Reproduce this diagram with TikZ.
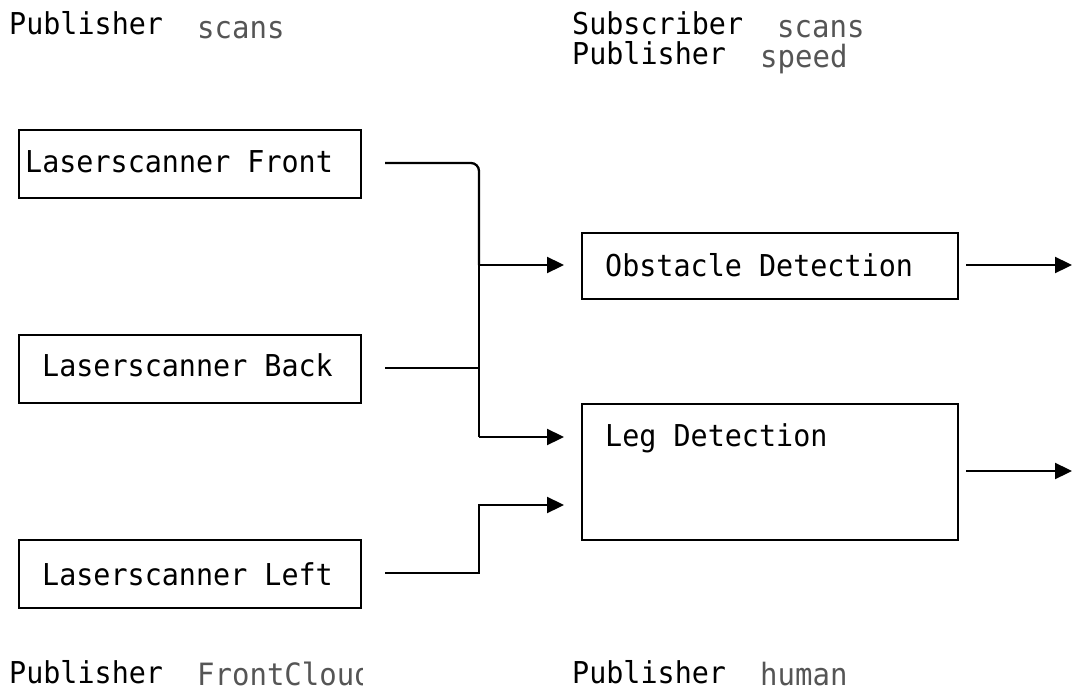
\documentclass[tikz,border=0pt]{standalone}
\usepackage{fontspec}
\usepackage{graphicx}
\setmonofont{DejaVu Sans Mono}
\usetikzlibrary{arrows.meta}
\definecolor{topicgray}{HTML}{555555}
% slightly tall monospace lettering
\newcommand\talltext[1]{\scalebox{1}[1.06]{#1}}
\tikzset{
  box/.style={draw, line width=2.3pt, inner sep=0pt, anchor=north west,
              minimum width=342pt, minimum height=68pt},
  wide/.style={box, minimum width=376pt},
  lbl/.style={inner sep=0pt, anchor=base west,
              font=\ttfamily\fontsize{28.4}{34}\selectfont},
  topic/.style={lbl, text=topicgray, font=\ttfamily\fontsize{29}{34}\selectfont},
  wire/.style={line width=2.3pt},
  flow/.style={wire, -{Triangle[length=17pt,width=16pt]}},
}
\begin{document}
\begin{tikzpicture}[x=1pt, y=-1pt]
\useasboundingbox (0,0) rectangle (1072,693);

% header roles and topics
\node[lbl]   (pubA)  at (9,35)    {\talltext{Publisher}};
\node[topic] (topA)  at (197,39)  {\talltext{scans}};
\node[lbl]   (subB)  at (572,35)  {\talltext{Subscriber}};
\node[topic] (topB)  at (777,38)  {\talltext{scans}};
\node[lbl]   (pubB)  at (572,65)  {\talltext{Publisher}};
\node[topic] (topB2) at (760,68)  {\talltext{speed}};

% scanner boxes
\node[box] (front) at (18,129) {};
\node[box] (back)  at (18,334) {};
\node[box] (left)  at (18,539) {};
\node[lbl] (frontT) at (25,172) {\talltext{Laserscanner Front}};
\node[lbl] (backT)  at (42,376) {\talltext{Laserscanner Back}};
\node[lbl] (leftT)  at (42,585) {\talltext{Laserscanner Left}};

% detection boxes
\node[wide, minimum height=66pt]  (obs) at (581,232) {};
\node[wide, minimum height=136pt] (leg) at (581,403) {};
\node[lbl] (obsT) at (605,276) {\talltext{Obstacle Detection}};
\node[lbl] (legT) at (605,446) {\talltext{Leg Detection}};

% connector end points
\coordinate (fo) at (385,163);
\coordinate (bo) at (385,368);
\coordinate (lo) at (385,573);
\coordinate (busTop)  at (479,163);
\coordinate (busObs)  at (479,265);
\coordinate (busBack) at (479,368);
\coordinate (busLeg)  at (479,437);
\coordinate (lowUp)   at (479,505);
\coordinate (lowCorner) at (479,573);
\coordinate (obsIn)  at (564,265);
\coordinate (legIn1) at (564,437);
\coordinate (legIn2) at (564,505);
\coordinate (obsOut) at (966,265);
\coordinate (obsEnd) at (1072,265);
\coordinate (legOut) at (966,471);
\coordinate (legEnd) at (1072,471);

% scans bus
\draw[wire, rounded corners=8pt] (fo) -- (busTop) -- (busObs);
\draw[wire] (busObs) -- (busLeg);
\draw[wire] (bo) -- (busBack);
\draw[flow] (busObs) -- (obsIn);
\draw[flow] (busLeg) -- (legIn1);
\draw[flow] (lo) -- (lowCorner) -- (lowUp) -- (legIn2);

% outputs
\draw[flow] (obsOut) -- (obsEnd);
\draw[flow] (legOut) -- (legEnd);

% footer roles and topics
\node[lbl] (pubC) at (9,683) {\talltext{Publisher}};
\begin{scope}
  \clip (190,640) rectangle (362,693);
  \node[topic] (topC) at (197,685) {\talltext{FrontCloud}};
\end{scope}
\node[lbl]   (pubD) at (572,683) {\talltext{Publisher}};
\node[topic] (topD) at (760,685) {\talltext{human}};
\end{tikzpicture}
\end{document}
